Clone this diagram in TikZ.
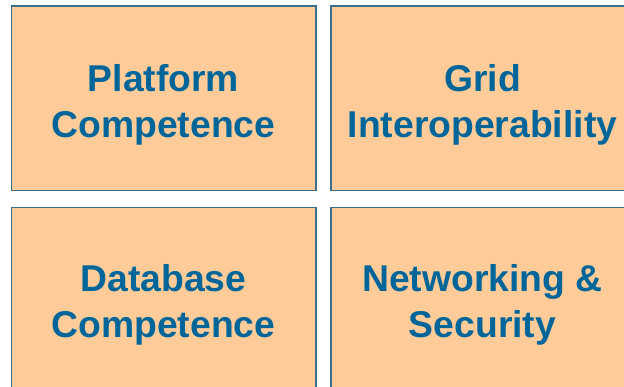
\documentclass[tikz,border=0pt]{standalone}
\usepackage{fontspec}
\setmainfont{Liberation Sans}
\definecolor{boxfill}{HTML}{FFCC99}
\definecolor{boxline}{HTML}{3A6E8C}
\definecolor{txt}{HTML}{006699}
\begin{document}
\begin{tikzpicture}[x=1pt,y=1pt,
  tile/.style={fill=boxfill,draw=boxline,line width=1.2pt},
  lbl/.style={text=txt,font=\fontsize{37.3}{46}\selectfont\bfseries,align=center}]
\useasboundingbox (0,0) rectangle (624,387);
\clip (0,0) rectangle (624,387);
\path[tile] (11.5,196.5) rectangle (316,381);
\path[tile] (331,196.5) rectangle (634,381);
\path[tile] (11.5,-10) rectangle (316,179.5);
\path[tile] (331,-10) rectangle (634,179.5);
\node[lbl] (a) at (163.5,282.5) {Platform\\Competence};
\node[lbl] (b) at (482.5,282.5) {Grid\\Interoperability};
\node[lbl] (c) at (163.5,82.5) {Database\\Competence};
\node[lbl] (d) at (482.5,82.5) {Networking \&\\Security};
\end{tikzpicture}
\end{document}
